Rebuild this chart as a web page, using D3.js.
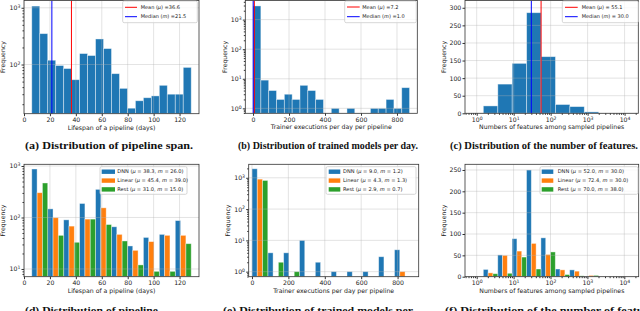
<!DOCTYPE html>
<html>
<head>
  <meta charset="utf-8">
  <title>pipeline histograms</title>
  <script src="https://d3js.org/d3.v7.min.js"></script>
<style>
    body { margin: 0; background: #fff; }
    svg text { font-family: "DejaVu Sans", sans-serif; fill: #222; }
    .cap { font-family: "Liberation Serif", serif; font-weight: bold; font-size: 10.5px; fill: #111; }
</style>
</head>
<body>
<div id="chart"></div>
<script>
// ---- data ----
// (a) lifespan of a pipeline (days), 20 bins
var lifespanEdges = [6, 12.15, 18.3, 24.45, 30.6, 36.75, 42.9, 49.05, 55.2, 61.35, 67.5,
                     73.65, 79.8, 85.95, 92.1, 98.25, 104.4, 110.55, 116.7, 122.85, 129];
var lifespanCounts = [1070, 350, 119, 96, 85, 54, 156, 144, 282, 191,
                      69, 38, 17, 23, 26, 28, 43, 30, 30, 89];
var lifespanMean = 36.6, lifespanMedian = 21.5;

// (b) trainer executions per day per pipeline, 20 bins
var trainerEdges = [0, 43.5, 87, 130.5, 174, 217.5, 261, 304.5, 348, 391.5, 435,
                    478.5, 522, 565.5, 609, 652.5, 696, 739.5, 783, 826.5, 870];
var trainerCounts = [2900, 9, 4, 2, 3, 2, 6, 4, 2, 0, 1, 0, 1, 0, 0, 1, 1, 2, 1, 5];
var trainerMean = 7.2, trainerMedian = 1.0;

// (c) number of features, log-spaced bins
var featureEdges = [1.51, 3.72, 9.12, 22.4, 55.0, 135, 331, 813, 1995, 4898, 12023];
var featureCounts = [21, 83, 142, 286, 161, 25, 19, 4, 0, 0];
var featureMean = 55.1, featureMedian = 30.0;

// (d)-(f) split per model type
var modelTypes = ["DNN", "Linear", "Rest"];

var lifespanTypeEdges = [6, 18.3, 30.6, 42.9, 55.2, 67.5, 79.8, 92.1, 104.4, 116.7, 129];
var lifespanDNN    = [875, 147, 90, 187, 352, 66, 28, 41, 47, 87];
var lifespanLinear = [303, 99, 68, 93, 154, 47, 23, 34, 45, 45];
var lifespanRest   = [468, 45, 33, 93, 73, 35, 12, 9, 9, 31];
var lifespanTypeMean = [38.3, 45.4, 31.0], lifespanTypeMedian = [26.0, 39.0, 15.0];

var trainerTypeEdges = [0, 87, 174, 261, 348, 435, 522, 609, 696, 783, 870];
var trainerDNN    = [1940, 4, 4, 10, 2, 1, 1, 1, 3, 5];
var trainerLinear = [906, 0, 0, 0, 0, 0, 0, 0, 0, 1];
var trainerRest   = [822, 2, 1, 0, 0, 0, 0, 0, 0, 0];
var trainerTypeMean = [9.0, 4.3, 2.9], trainerTypeMedian = [1.2, 1.3, 0.7];

var featureDNN    = [17, 51, 89, 250, 91, 18, 16, 0, 0, 0];
var featureLinear = [9, 50, 60, 78, 52, 16, 13, 3, 0, 0];
var featureRest   = [7, 8, 46, 18, 58, 5, 2, 3, 0, 0];
var featureTypeMean = [52.0, 72.4, 70.0], featureTypeMedian = [30.0, 30.0, 38.0];

// tick values
var spanTicks = [0, 20, 40, 60, 80, 100, 120];
var trainerTicks = [0, 200, 400, 600, 800];
var logTicks = [1, 10, 100, 1000, 10000];
var featFreqTicks = [0, 50, 100, 150, 200, 250, 300];

var captions = ["(a) Distribution of pipeline span.",
                "(b) Distribution of trained models per day.",
                "(c) Distribution of the number of features.",
                "(d) Distribution of pipeline",
                "(e) Distribution of trained models per",
                "(f) Distribution of the number of features"];

var blue = "#1f77b4", orange = "#ff7f0e", green = "#2ca02c";
var typeColors = [blue, orange, green];

var svg = d3.select("#chart").append("svg")
    .attr("width", 640).attr("height", 311);

// write 10^k as a real superscript
function powLabel(t, d) {
  t.text("");
  t.append("tspan").text("10");
  t.append("tspan").attr("dy", "-0.45em").attr("font-size", "4.6px")
    .text(Math.round(Math.log10(d)));
}

function minorLogTicks(scale) {
  var dom = scale.domain(), out = [];
  for (var k = -2; k <= 5; k++)
    for (var m = 2; m <= 9; m++) {
      var v = m * Math.pow(10, k);
      if (v > dom[0] && v < dom[1]) out.push(v);
    }
  return out;
}

function drawPanel(p) {
  var x = p.x, y = p.y;
  var L = x.range()[0], R = x.range()[1], T = y.range()[1], B = y.range()[0];
  var g = svg.append("g");
  var clipId = "clip" + p.key;
  svg.append("clipPath").attr("id", clipId).append("rect")
    .attr("x", L).attr("y", T).attr("width", R - L).attr("height", B - T);
  var plot = g.append("g").attr("clip-path", "url(#" + clipId + ")");

  // bars, several series side by side inside each bin
  var n = p.series.length, bars = [];
  p.series.forEach(function(s, k) {
    s.values.forEach(function(v, i) {
      if (v > 0) bars.push({v: v, a: p.edges[i], b: p.edges[i + 1], k: k, color: s.color});
    });
  });
  plot.selectAll("rect.bar").data(bars).enter().append("rect")
    .attr("class", "bar")
    .attr("x", function(d) { var a = x(d.a), b = x(d.b); return a + (b - a) * d.k / n; })
    .attr("width", function(d) { return (x(d.b) - x(d.a)) / n; })
    .attr("y", function(d) { return y(d.v); })
    .attr("height", function(d) { return B - y(d.v); })
    .attr("fill", function(d) { return d.color; })
    .attr("stroke", "#fff").attr("stroke-opacity", 0.5).attr("stroke-width", 0.8);

  // grid over the bars
  var xd = x.domain(), yd = y.domain();
  var xT = p.xTicks.filter(function(v) { return v >= xd[0] && v <= xd[1]; });
  var yT = p.yTicks.filter(function(v) { return v >= yd[0] && v <= yd[1]; });
  plot.selectAll("line.vg").data(xT).enter().append("line")
    .attr("x1", function(d) { return x(d); }).attr("x2", function(d) { return x(d); })
    .attr("y1", T).attr("y2", B)
    .attr("stroke", "#b0b0b0").attr("stroke-opacity", 0.45).attr("stroke-width", 0.8);
  plot.selectAll("line.hg").data(yT).enter().append("line")
    .attr("y1", function(d) { return y(d); }).attr("y2", function(d) { return y(d); })
    .attr("x1", L).attr("x2", R)
    .attr("stroke", "#b0b0b0").attr("stroke-opacity", 0.45).attr("stroke-width", 0.8);

  // mean / median markers
  (p.lines || []).forEach(function(l) {
    plot.append("line").attr("x1", x(l.v)).attr("x2", x(l.v)).attr("y1", T).attr("y2", B)
      .attr("stroke", l.color).attr("stroke-width", 1);
  });

  // x axis
  var gx = g.append("g").attr("transform", "translate(0," + B + ")")
    .call(d3.axisBottom(x).tickValues(xT).tickSize(2.5).tickPadding(1.5));
  gx.select(".domain").remove();
  gx.attr("font-size", null).attr("font-family", null).style("color", "#333");
  gx.selectAll("text").attr("font-size", "6.2px");
  if (p.xLog) {
    gx.selectAll(".tick text").each(function(d) { powLabel(d3.select(this), d); });
    var gxm = g.append("g").attr("transform", "translate(0," + B + ")")
      .call(d3.axisBottom(x).tickValues(minorLogTicks(x)).tickSize(1.5).tickFormat(""));
    gxm.select(".domain").remove();
    gxm.style("color", "#333");
  }

  // y axis
  var gy = g.append("g").attr("transform", "translate(" + L + ",0)")
    .call(d3.axisLeft(y).tickValues(yT).tickSize(2.5).tickPadding(1.2));
  gy.select(".domain").remove();
  gy.attr("font-size", null).attr("font-family", null).style("color", "#333");
  gy.selectAll("text").attr("font-size", "6.2px");
  if (p.yLog) {
    gy.selectAll(".tick text").each(function(d) { powLabel(d3.select(this), d); });
    var gym = g.append("g").attr("transform", "translate(" + L + ",0)")
      .call(d3.axisLeft(y).tickValues(minorLogTicks(y)).tickSize(1.5).tickFormat(""));
    gym.select(".domain").remove();
    gym.style("color", "#333");
  }

  // frame
  g.append("rect").attr("x", L).attr("y", T).attr("width", R - L).attr("height", B - T)
    .attr("fill", "none").attr("stroke", "#333").attr("stroke-width", 0.8);

  // axis titles
  g.append("text").attr("x", (L + R) / 2).attr("y", B + 16)
    .attr("text-anchor", "middle").attr("font-size", "6.2px").text(p.xLabel);
  g.append("text")
    .attr("transform", "translate(" + (L - 20.7) + "," + ((T + B) / 2) + ") rotate(-90)")
    .attr("text-anchor", "middle").attr("dy", "0.35em").attr("font-size", "6.2px")
    .text("Frequency");
}

function drawLegend(l) {
  var g = svg.append("g");
  g.append("rect").attr("x", l.x).attr("y", l.y).attr("width", l.w).attr("height", l.h)
    .attr("rx", 1.5).attr("fill", "#fff").attr("fill-opacity", 0.8)
    .attr("stroke", "#ccc").attr("stroke-width", 0.8);
  l.items.forEach(function(it, i) {
    var cy = l.rows[i];
    if (it.kind == "line")
      g.append("line").attr("x1", l.s0).attr("x2", l.s1).attr("y1", cy).attr("y2", cy)
        .attr("stroke", it.color).attr("stroke-width", 1);
    else
      g.append("rect").attr("x", l.s0).attr("y", cy - 2.2).attr("width", l.s1 - l.s0)
        .attr("height", 4.4).attr("fill", it.color);
    var t = g.append("text").attr("x", l.tx).attr("y", cy).attr("dy", "0.35em")
      .attr("font-size", l.fs + "px");
    it.label.split("*").forEach(function(part, j) {
      t.append("tspan").attr("font-style", j % 2 ? "italic" : null).text(part);
    });
  });
}

function typeLabels(means, medians) {
  return modelTypes.map(function(name, i) {
    return name + " (*\u03bc* = " + means[i].toFixed(1) + ", *m* = " + medians[i].toFixed(1) + ")";
  });
}

// ---- scales (ranges are the axes boxes) ----
var xSpanTop = d3.scaleLinear().domain([0, 135]).range([24, 199]);
var ySpanTop = d3.scaleLog().domain([13.6, 1343]).range([113.7, 0.5]);
var xTrainTop = d3.scaleLinear().domain([-43, 913]).range([245.3, 417.3]);
var yTrainTop = d3.scaleLog().domain([0.68, 4430]).range([113.3, 0.5]);
var xFeatTop = d3.scaleLog().domain([0.482, 23500]).range([465, 638.3]);
var yFeatTop = d3.scaleLinear().domain([0, 320.7]).range([113.3, 0.5]);

var xSpanBot = d3.scaleLinear().domain([0, 135]).range([24, 199]);
var ySpanBot = d3.scaleLog().domain([7.08, 1079]).range([276.7, 164.3]);
var xTrainBot = d3.scaleLinear().domain([-18, 916]).range([248.7, 418.7]);
var yTrainBot = d3.scaleLog().domain([0.69, 2698]).range([276.7, 164.3]);
var xFeatBot = d3.scaleLog().domain([0.482, 24550]).range([465, 638.7]);
var yFeatBot = d3.scaleLinear().domain([0, 263.3]).range([276.7, 164.3]);

// ---- top row ----
drawPanel({key: "a", x: xSpanTop, y: ySpanTop, yLog: true,
  edges: lifespanEdges, series: [{values: lifespanCounts, color: blue}],
  xTicks: spanTicks, yTicks: logTicks, xLabel: "Lifespan of a pipeline (days)",
  lines: [{v: lifespanMean, color: "red"}, {v: lifespanMedian, color: "blue"}]});
drawPanel({key: "b", x: xTrainTop, y: yTrainTop, yLog: true,
  edges: trainerEdges, series: [{values: trainerCounts, color: blue}],
  xTicks: trainerTicks, yTicks: logTicks, xLabel: "Trainer executions per day per pipeline",
  lines: [{v: trainerMean, color: "red"}, {v: trainerMedian, color: "blue"}]});
drawPanel({key: "c", x: xFeatTop, y: yFeatTop, xLog: true,
  edges: featureEdges, series: [{values: featureCounts, color: blue}],
  xTicks: logTicks, yTicks: featFreqTicks, xLabel: "Numbers of features among sampled pipelines",
  lines: [{v: featureMean, color: "red"}, {v: featureMedian, color: "blue"}]});

drawLegend({x: 122.7, y: 1, w: 74.6, h: 21.7, rows: [7.3, 16.7], s0: 125, s1: 137, tx: 140.7, fs: 5,
  items: [{kind: "line", color: "red", label: "Mean (*\u03bc*) =" + lifespanMean.toFixed(1)},
          {kind: "line", color: "blue", label: "Median (*m*) =" + lifespanMedian.toFixed(1)}]});
drawLegend({x: 344.7, y: 1, w: 71.6, h: 21.7, rows: [7.0, 16.7], s0: 347, s1: 359.7, tx: 362.3, fs: 5,
  items: [{kind: "line", color: "red", label: "Mean (*\u03bc*) =" + trainerMean.toFixed(1)},
          {kind: "line", color: "blue", label: "Median (*m*) =" + trainerMedian.toFixed(1)}]});
drawLegend({x: 562.3, y: 1, w: 76, h: 21.7, rows: [7.3, 16.7], s0: 565, s1: 577.7, tx: 581.7, fs: 5,
  items: [{kind: "line", color: "red", label: "Mean (*\u03bc*) = " + featureMean.toFixed(1)},
          {kind: "line", color: "blue", label: "Median (*m*) = " + featureMedian.toFixed(1)}]});

// ---- bottom row ----
drawPanel({key: "d", x: xSpanBot, y: ySpanBot, yLog: true, edges: lifespanTypeEdges,
  series: [lifespanDNN, lifespanLinear, lifespanRest].map(function(v, i) { return {values: v, color: typeColors[i]}; }),
  xTicks: spanTicks, yTicks: logTicks, xLabel: "Lifespan of a pipeline (days)"});
drawPanel({key: "e", x: xTrainBot, y: yTrainBot, yLog: true, edges: trainerTypeEdges,
  series: [trainerDNN, trainerLinear, trainerRest].map(function(v, i) { return {values: v, color: typeColors[i]}; }),
  xTicks: trainerTicks, yTicks: logTicks, xLabel: "Trainer executions per day per pipeline"});
drawPanel({key: "f", x: xFeatBot, y: yFeatBot, xLog: true, edges: featureEdges,
  series: [featureDNN, featureLinear, featureRest].map(function(v, i) { return {values: v, color: typeColors[i]}; }),
  xTicks: logTicks, yTicks: featFreqTicks, xLabel: "Numbers of features among sampled pipelines"});

var bottomRows = [171.7, 180.6, 189.4];
var spanLab = typeLabels(lifespanTypeMean, lifespanTypeMedian);
var trainLab = typeLabels(trainerTypeMean, trainerTypeMedian);
var featLab = typeLabels(featureTypeMean, featureTypeMedian);
drawLegend({x: 100, y: 166.7, w: 87, h: 27.6, rows: bottomRows, s0: 101.7, s1: 115, tx: 117.3, fs: 5.1,
  items: spanLab.map(function(s, i) { return {kind: "patch", color: typeColors[i], label: s}; })});
drawLegend({x: 326, y: 166.7, w: 90, h: 27.6, rows: bottomRows, s0: 328.7, s1: 340.3, tx: 343, fs: 5.1,
  items: trainLab.map(function(s, i) { return {kind: "patch", color: typeColors[i], label: s}; })});
drawLegend({x: 540, y: 166.7, w: 98, h: 27.6, rows: bottomRows, s0: 541.7, s1: 553.3, tx: 557.7, fs: 5.1,
  items: featLab.map(function(s, i) { return {kind: "patch", color: typeColors[i], label: s}; })});

// ---- captions: start x, baseline, width ----
var capPos = [[25, 149, 168], [238, 149, 180], [450, 149, 188],
              [25, 314, 133], [223, 314, 190], [445, 314, 214]];
captions.forEach(function(c, i) {
  svg.append("text").attr("class", "cap")
    .attr("x", capPos[i][0]).attr("y", capPos[i][1])
    .attr("textLength", capPos[i][2]).attr("lengthAdjust", "spacingAndGlyphs")
    .text(c);
});
</script>
</body>
</html>
